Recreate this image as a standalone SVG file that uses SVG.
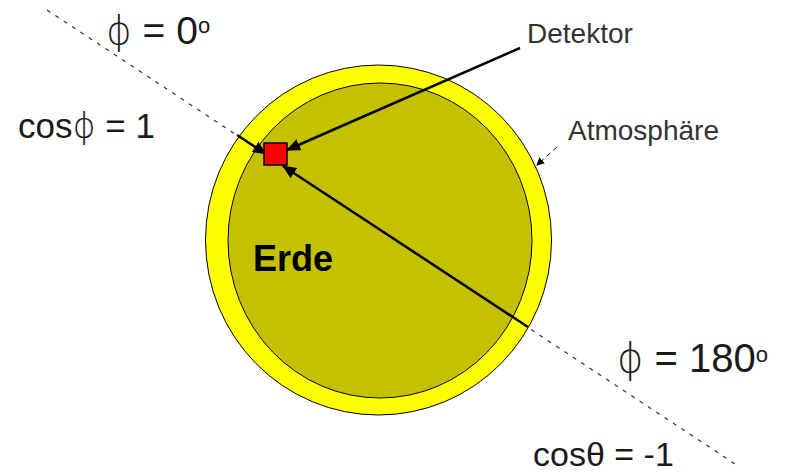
<svg xmlns="http://www.w3.org/2000/svg" width="792" height="472" viewBox="0 0 792 472">
<style>
.lbl{font-family:"Liberation Sans",Arial,sans-serif;fill:#1a1a1a}
.phi{font-family:"DejaVu Sans","Liberation Sans",sans-serif;font-weight:200}
.small{font-family:"Liberation Sans",Arial,sans-serif;fill:#333;font-size:28px}
.thick{stroke:#000;stroke-width:2.5;fill:none}
</style>
<defs>
<marker id="ah" markerUnits="userSpaceOnUse" markerWidth="14" markerHeight="12" refX="13" refY="6" orient="auto">
<path d="M0,0 L14,6 L0,12 Z" fill="#000"/>
</marker>
<marker id="ahs" markerUnits="userSpaceOnUse" markerWidth="8" markerHeight="8" refX="7" refY="4" orient="auto">
<path d="M0,0 L8,4 L0,8 Z" fill="#000"/>
</marker>
</defs>
<rect width="792" height="472" fill="#fff"/>
<g id="atmosphaere">
<ellipse cx="378.5" cy="240" rx="173" ry="175" fill="#ffff00" stroke="#000" stroke-width="1"/>
</g>
<g id="erde">
<ellipse cx="380" cy="240.5" rx="152" ry="157.5" fill="#c4c200" stroke="#000" stroke-width="1"/>
<text class="lbl" x="253" y="271" font-size="36" font-weight="bold" style="fill:#000">Erde</text>
</g>
<g id="connectors">
<line x1="47" y1="10" x2="735" y2="464" stroke="#333" stroke-width="1.2" stroke-dasharray="4 6"/>
<line class="thick" x1="237" y1="135" x2="266" y2="154" marker-end="url(#ah)"/>
<line class="thick" x1="528" y1="327" x2="283" y2="166" marker-end="url(#ah)"/>
<line class="thick" x1="520" y1="48" x2="287" y2="150" marker-end="url(#ah)"/>
<line x1="557" y1="147" x2="537" y2="165" stroke="#000" stroke-width="1" stroke-dasharray="5 4" marker-end="url(#ahs)"/>
</g>
<g id="detektor">
<rect x="264" y="143" width="23" height="22" fill="#ff0000" stroke="#000" stroke-width="1.5"/>
</g>
<g id="labels">
<text class="lbl" x="106" y="44" font-size="39"><tspan class="phi">ϕ</tspan> = 0<tspan font-size="22" dy="-11">o</tspan></text>
<text class="lbl" x="18" y="138" font-size="35">cos<tspan class="phi">ϕ</tspan> = 1</text>
<text class="lbl" x="617" y="372" font-size="40"><tspan class="phi">ϕ</tspan> = 180<tspan font-size="22" dy="-10">o</tspan></text>
<text class="lbl" x="533" y="466" font-size="34">cosθ = -1</text>
<text class="small" x="527" y="43">Detektor</text>
<text class="small" x="568" y="140">Atmosphäre</text>
</g>
</svg>
